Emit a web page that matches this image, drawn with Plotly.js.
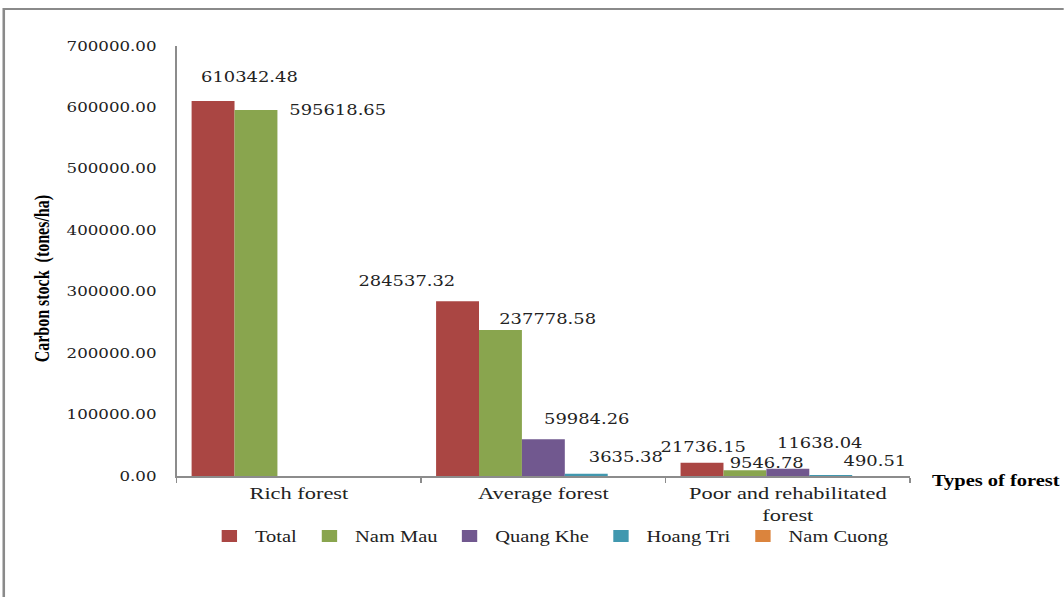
<!DOCTYPE html>
<html>
<head>
<meta charset="utf-8">
<script src="https://cdn.plot.ly/plotly-3.0.1.min.js"></script>
<style>
html,body{margin:0;padding:0;overflow:hidden;background:#fff;width:1064px;height:597px}
#chart{width:831px;height:597px;transform:scaleX(1.28);transform-origin:0 0}
</style>
</head>
<body>
<div id="chart"></div>
<script>
// ---- data ----
const categories = ['Rich forest', 'Average forest', 'Poor and rehabilitated<br>forest'];
const seriesNames = ['Total', 'Nam Mau', 'Quang Khe', 'Hoang Tri', 'Nam Cuong'];
const total    = [610342.48, 284537.32, 21736.15];
const namMau   = [595618.65, 237778.58, 9546.78];
const quangKhe = [null, 59984.26, 11638.04];
const hoangTri = [null, 3635.38, 490.51];
const namCuong = [null, null, null];
const yTickValues = [0, 100000, 200000, 300000, 400000, 500000, 600000, 700000];

// ---- styling / layout ----
const seriesValues = [total, namMau, quangKhe, hoangTri, namCuong];
const colors = ['#AA4643', '#89A54E', '#71588F', '#4198AF', '#DB843D'];
// offset (real pixels) of each value label centre from its bar-top centre: [dx, up]
const labelShift = [
  [[36, 24], [-50, 20], [2, 16]],
  [[82, 0], [48, 11], [22, 7]],
  [null, [44, 20], [32, 26]],
  [null, [40, 17], [44, 15]],
  [null, null, null]
];

const S = 1.28;               // horizontal stretch of the page
const W = 831, H = 597;
const L = 176 / S, R = W - 910 / S, T = 46, B = 121;
const PW = W - L - R, PH = H - T - B;
const bargap = 30 / 245;
const nS = seriesValues.length;
const bw = (PW / categories.length) * (1 - bargap) / nS;
const pxX = rx => (rx / S - L) / PW;
const pxY = ry => (H - B - ry) / PH;

const serif = 'Liberation Serif, Times New Roman, serif';
const numFont = 'DejaVu Serif, serif';

const traces = seriesValues.map((vals, i) => ({
  type: 'bar',
  name: seriesNames[i],
  x: categories,
  y: vals,
  marker: {color: colors[i], line: {width: 0}},
  hoverinfo: 'x+y+name'
}));

const annotations = [];
seriesValues.forEach((vals, i) => {
  vals.forEach((v, k) => {
    const sh = labelShift[i][k];
    if (v === null || !sh) return;
    annotations.push({
      x: categories[k], y: v, xref: 'x', yref: 'y',
      text: v.toFixed(2), showarrow: false,
      xanchor: 'center', yanchor: 'middle',
      xshift: (i - (nS - 1) / 2) * bw + sh[0] / S,
      yshift: sh[1],
      font: {family: numFont, size: 14, color: '#222'}
    });
  });
});

annotations.push({
  xref: 'paper', yref: 'paper', x: pxX(42), y: pxY(278),
  text: 'Carbon stock&nbsp; (tones/ha)', textangle: -90, showarrow: false,
  xanchor: 'center', yanchor: 'middle',
  font: {family: serif, size: 16, color: '#000', weight: 'bold'}
});
annotations.push({
  xref: 'paper', yref: 'paper', x: pxX(929), y: pxY(481),
  text: '<b>Types of forest</b>', showarrow: false,
  xanchor: 'left', yanchor: 'middle',
  font: {family: serif, size: 16, color: '#000'}
});

const layout = {
  width: W, height: H,
  margin: {l: L, r: R, t: T, b: B, autoexpand: false},
  paper_bgcolor: '#fff', plot_bgcolor: '#fff',
  barmode: 'group', bargap: bargap, bargroupgap: 0,
  showlegend: true,
  legend: {
    orientation: 'h', x: pxX(549), xanchor: 'center', y: pxY(536), yanchor: 'middle',
    bgcolor: 'rgba(0,0,0,0)',
    font: {family: serif, size: 16, color: '#222'}, itemwidth: 30, traceorder: 'normal',
    itemclick: false, itemdoubleclick: false
  },
  xaxis: {
    type: 'category', showline: true, linecolor: '#8c8c8c', linewidth: 1.5,
    ticks: 'outside', tickson: 'boundaries', ticklen: 5, tickcolor: '#8c8c8c',
    showgrid: false, zeroline: false,
    tickfont: {family: serif, size: 17.5, color: '#222'}
  },
  yaxis: {
    range: [0, 700000], tickmode: 'array', tickvals: yTickValues, tickformat: '.2f',
    showline: true, linecolor: '#8c8c8c', linewidth: 1.2, ticks: '',
    showgrid: false, zeroline: false, ticklabelstandoff: 12,
    tickfont: {family: numFont, size: 13, color: '#222'}
  },
  annotations: annotations,
  shapes: [{
    type: 'rect', xref: 'paper', yref: 'paper',
    x0: pxX(3), y0: pxY(9), x1: 2, y1: -1,
    line: {color: '#8a8a8a', width: 2}, fillcolor: 'rgba(0,0,0,0)', layer: 'below'
  }]
};

Plotly.newPlot('chart', traces, layout, {displayModeBar: false, staticPlot: false});
</script>
</body>
</html>
